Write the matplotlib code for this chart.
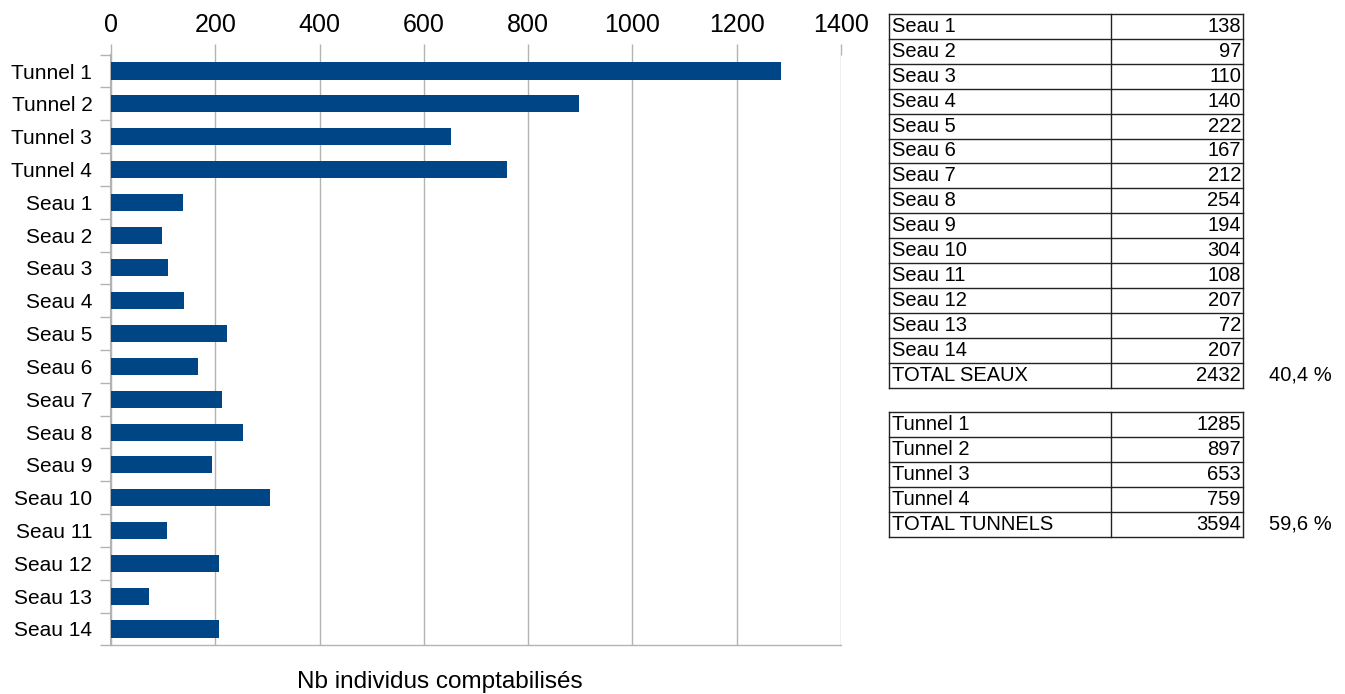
import numpy as np
import matplotlib.pyplot as plt

plt.rcParams['font.family'] = ['Liberation Sans', 'DejaVu Sans']

# comptages par piege
tunnels = ['Tunnel 1', 'Tunnel 2', 'Tunnel 3', 'Tunnel 4']
tunnel_counts = [1285, 897, 653, 759]
seaux = ['Seau %d' % i for i in range(1, 15)]
seau_counts = [138, 97, 110, 140, 222, 167, 212, 254, 194, 304, 108, 207, 72, 207]
pct_seaux = '40,4 %'
pct_tunnels = '59,6 %'

labels = tunnels + seaux
counts = tunnel_counts + seau_counts

W, H = 1345, 694
fig = plt.figure(figsize=(W / 100, H / 100), dpi=100)

grey = '#b3b3b3'
blue = '#004586'

# bar chart
top, bottom = 54.6, 645.4
ax = fig.add_axes([111 / W, (H - bottom) / H, (841 - 111) / W, (bottom - top) / H])
y = np.arange(len(labels))
ax.barh(y, counts, height=0.52, color=blue, zorder=3)
ax.set_ylim(len(labels) - 0.5, -0.5)
ax.set_xlim(0, 1400)
ax.set_xticks(np.arange(0, 1401, 200))
ax.xaxis.tick_top()
ax.tick_params(axis='x', length=8, color=grey, width=1, labelsize=18, pad=5)
ax.set_yticks(y)
ax.set_yticklabels(labels)
ax.set_yticks(np.arange(-0.5, len(labels)), minor=True)
ax.tick_params(axis='y', which='major', length=0, labelsize=15, pad=13.5)
ax.tick_params(axis='y', which='minor', length=8, color=grey, width=1)
ax.grid(axis='x', color=grey, linewidth=1)
ax.set_axisbelow(True)
for s in ['top', 'right']:
    ax.spines[s].set_visible(False)
ax.spines['left'].set_color(grey)
ax.spines['left'].set_linewidth(1.5)
ax.spines['bottom'].set_color(grey)
ax.spines['bottom'].set_linewidth(1)
fig.text(440 / W, 1 - 682 / H, 'Nb individus comptabilisés', ha='center', va='center', fontsize=17.5)

# tables on the right, in pixel coordinates
tx = fig.add_axes([0, 0, 1, 1])
tx.set_xlim(0, W)
tx.set_ylim(H, 0)
tx.axis('off')

x0, x1, x2 = 889, 1111, 1243
rh = 24.9


def draw_table(rows, y0, pct):
    n = len(rows)
    for i in range(n + 1):
        tx.plot([x0, x2], [y0 + i * rh] * 2, color='#222222', lw=1)
    for x in (x0, x1, x2):
        tx.plot([x, x], [y0, y0 + n * rh], color='#222222', lw=1)
    for i, (name, val) in enumerate(rows):
        yc = y0 + (i + 0.5) * rh
        tx.text(x0 + 3, yc, name, ha='left', va='center', fontsize=14.5)
        tx.text(x2 - 2, yc, str(val), ha='right', va='center', fontsize=14.5)
    tx.text(1332, y0 + (n - 0.5) * rh, pct, ha='right', va='center', fontsize=14.5)


draw_table(list(zip(seaux, seau_counts)) + [('TOTAL SEAUX', sum(seau_counts))], 14, pct_seaux)
draw_table(list(zip(tunnels, tunnel_counts)) + [('TOTAL TUNNELS', sum(tunnel_counts))], 412, pct_tunnels)

fig.savefig('out.png', dpi=100)
